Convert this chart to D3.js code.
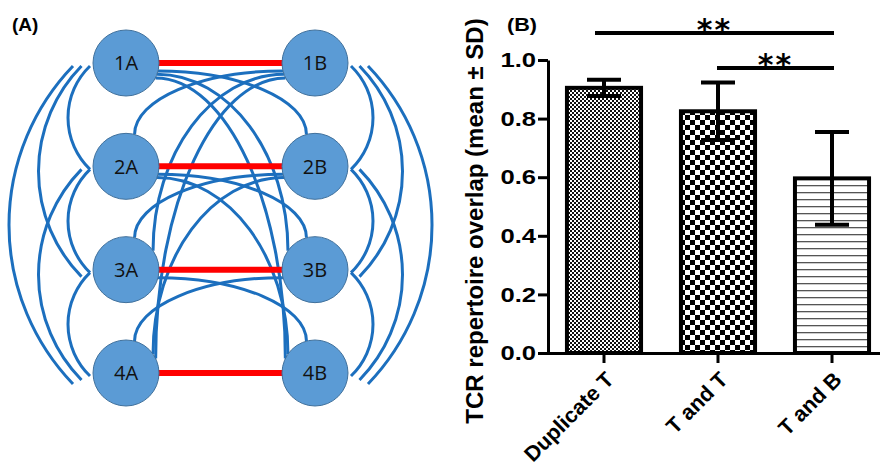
<!DOCTYPE html>
<html>
<head>
<meta charset="utf-8">
<script src="https://cdn.jsdelivr.net/npm/d3@7"></script>
<style>
  body { margin: 0; background: #fff; }
  svg { display: block; }
</style>
</head>
<body>
<div id="chart"></div>
<script>
// ---- panel A: network ----
const rows = ["1", "2", "3", "4"];
const cols = ["A", "B"];
const nodes = ["1A", "1B", "2A", "2B", "3A", "3B", "4A", "4B"];
// same-row pairs (red)
const pairLinks = [["1A", "1B"], ["2A", "2B"], ["3A", "3B"], ["4A", "4B"]];
// same-column links drawn on the outer sides
const sideLinks = [
    ["1A", "2A"], ["1A", "3A"], ["1A", "4A"], ["2A", "3A"], ["2A", "4A"], ["3A", "4A"],
    ["1B", "2B"], ["1B", "3B"], ["1B", "4B"], ["2B", "3B"], ["2B", "4B"], ["3B", "4B"]
];
// links crossing between the columns
const crossLinks = [
    ["1A", "2B"], ["1A", "3B"], ["1A", "4B"], ["2A", "3B"], ["2A", "4B"], ["3A", "4B"],
    ["1B", "2A"], ["1B", "3A"], ["1B", "4A"], ["2B", "3A"], ["2B", "4A"], ["3B", "4A"]
];

// ---- panel B: bar chart ----
const groups = ["Duplicate T", "T and T", "T and B"];
const means = [0.905, 0.825, 0.596];
const sds = [0.028, 0.098, 0.158];
const yTicks = [0, 0.2, 0.4, 0.6, 0.8, 1.0];
const sigPairs = [["Duplicate T", "T and B"], ["T and T", "T and B"]];
const sigLevels = [1.092, 0.973];
const sigLabels = ["**", "**"];

const W = 880, H = 467;
const svg = d3.select("#chart").append("svg")
    .attr("width", W)
    .attr("height", H);

svg.append("rect").attr("width", W).attr("height", H).attr("fill", "#fff");

// patterns
const defs = svg.append("defs");
const fine = defs.append("pattern").attr("id", "fine")
    .attr("patternUnits", "userSpaceOnUse").attr("width", 4).attr("height", 4);
fine.append("rect").attr("width", 4).attr("height", 4).attr("fill", "#fff");
fine.append("rect").attr("width", 2).attr("height", 2).attr("fill", "#111");
fine.append("rect").attr("x", 2).attr("y", 2).attr("width", 2).attr("height", 2).attr("fill", "#111");

const coarse = defs.append("pattern").attr("id", "coarse")
    .attr("patternUnits", "userSpaceOnUse").attr("width", 10).attr("height", 10);
coarse.append("rect").attr("width", 10).attr("height", 10).attr("fill", "#fff");
coarse.append("rect").attr("width", 5).attr("height", 5).attr("fill", "#000");
coarse.append("rect").attr("x", 5).attr("y", 5).attr("width", 5).attr("height", 5).attr("fill", "#000");

const stripes = defs.append("pattern").attr("id", "stripes")
    .attr("patternUnits", "userSpaceOnUse").attr("width", 8).attr("height", 7);
stripes.append("rect").attr("width", 8).attr("height", 7).attr("fill", "#fff");
stripes.append("rect").attr("y", 3).attr("width", 8).attr("height", 1.3).attr("fill", "#555");

const fills = ["url(#fine)", "url(#coarse)", "url(#stripes)"];

// ================= Panel A =================
const gA = svg.append("g");
const colX = d3.scalePoint().domain(cols).range([126, 315]);
const rowY = d3.scalePoint().domain(rows).range([63, 373]);
const R = 33;
const pos = id => ({x: colX(id[1]), y: rowY(id[0])});
const span = (a, b) => Math.round(Math.abs(rowY(b[0]) - rowY(a[0])) / rowY.step());

const blue = "#1c6fbe";

function sidePath(d) {
    const p = pos(d[0]), q = pos(d[1]), k = span(d[0], d[1]);
    const dir = d[0][1] === "A" ? -1 : 1;
    const gap = 3 + 8.5 * (k - 1);
    const x = p.x + dir * (R + gap);
    const y0 = p.y + 3, y1 = q.y + 3 + 4 * (k - 1);
    const L = y1 - y0, s = 21 * k + 1;
    const rad = (L * L / 4 + s * s) / (2 * s);
    const sweep = dir < 0 ? 0 : 1;
    return `M${x},${y0}A${rad},${rad} 0 0 ${sweep} ${x},${y1}`;
}

function crossPath(d) {
    const p = pos(d[0]), q = pos(d[1]), k = span(d[0], d[1]);
    const dir = p.x < q.x ? 1 : -1;
    const sa = [14, 20, 27][k - 1] * Math.PI / 180;
    const ea = [15, 55, 64][k - 1] * Math.PI / 180;
    const x0 = p.x + dir * R * Math.cos(sa), y0 = p.y + R * Math.sin(sa);
    const x1 = q.x - dir * R * Math.sin(ea), y1 = q.y - R * Math.cos(ea);
    const path = d3.path();
    path.moveTo(x0, y0);
    path.bezierCurveTo(x0 + 0.55 * (x1 - x0), y0, x1, y1 - 0.55 * (y1 - y0), x1, y1);
    return path.toString();
}

gA.selectAll(".side").data(sideLinks).enter().append("path")
    .attr("class", "side")
    .attr("d", sidePath)
    .attr("fill", "none")
    .attr("stroke", blue)
    .attr("stroke-width", 3);

gA.selectAll(".cross").data(crossLinks).enter().append("path")
    .attr("class", "cross")
    .attr("d", crossPath)
    .attr("fill", "none")
    .attr("stroke", blue)
    .attr("stroke-width", 3);

gA.selectAll(".pair").data(pairLinks).enter().append("line")
    .attr("class", "pair")
    .attr("x1", d => pos(d[0]).x + R - 2)
    .attr("x2", d => pos(d[1]).x - R + 2)
    .attr("y1", d => pos(d[0]).y)
    .attr("y2", d => pos(d[1]).y)
    .attr("stroke", "#ff0000")
    .attr("stroke-width", 6);

const node = gA.selectAll(".node").data(nodes).enter().append("g")
    .attr("class", "node")
    .attr("transform", d => `translate(${pos(d).x},${pos(d).y})`);
node.append("circle")
    .attr("r", R)
    .attr("fill", "#5b9bd5")
    .attr("stroke", "#41719c")
    .attr("stroke-width", 1);
node.append("text")
    .attr("text-anchor", "middle")
    .attr("dy", "0.36em")
    .style("font-family", "'Open Sans', sans-serif")
    .style("font-size", "20px")
    .attr("fill", "#111")
    .text(d => d);

gA.append("text")
    .attr("x", 12).attr("y", 31)
    .style("font-family", "'Liberation Sans', Arial, sans-serif")
    .style("font-weight", "bold")
    .style("font-size", "19px")
    .text("(A)");

// ================= Panel B =================
const gB = svg.append("g");
const y = d3.scaleLinear().domain([0, 1]).range([353, 60]);
const x = d3.scaleBand().domain(groups).range([547, 889])
    .paddingInner(0.35).paddingOuter(0.175);

const font = "'Liberation Sans', Arial, sans-serif";

// bars
gB.selectAll(".bar").data(groups).enter().append("rect")
    .attr("class", "bar")
    .attr("x", d => x(d))
    .attr("width", x.bandwidth())
    .attr("y", (d, i) => y(means[i]))
    .attr("height", (d, i) => y(0) - y(means[i]))
    .attr("fill", (d, i) => fills[i])
    .attr("stroke", "#000")
    .attr("stroke-width", 4);

// error bars
const cx = d => x(d) + x.bandwidth() / 2;
const capW = 34;
const err = gB.selectAll(".err").data(groups).enter().append("g")
    .attr("class", "err")
    .attr("stroke", "#000")
    .attr("stroke-width", 4);
err.append("line")
    .attr("x1", cx).attr("x2", cx)
    .attr("y1", (d, i) => y(means[i] - sds[i]))
    .attr("y2", (d, i) => y(means[i] + sds[i]));
err.append("line")
    .attr("x1", d => cx(d) - capW / 2).attr("x2", d => cx(d) + capW / 2)
    .attr("y1", (d, i) => y(means[i] + sds[i]))
    .attr("y2", (d, i) => y(means[i] + sds[i]));
err.append("line")
    .attr("x1", d => cx(d) - capW / 2).attr("x2", d => cx(d) + capW / 2)
    .attr("y1", (d, i) => y(means[i] - sds[i]))
    .attr("y2", (d, i) => y(means[i] - sds[i]));

// axes
const yAxis = gB.append("g")
    .attr("transform", "translate(548,0)")
    .call(d3.axisLeft(y).tickValues(yTicks).tickSize(10).tickSizeOuter(0)
        .tickPadding(3).tickFormat(d3.format(".1f")));
yAxis.select(".domain").attr("stroke-width", 3);
yAxis.selectAll(".tick line").attr("stroke-width", 3);
yAxis.selectAll(".tick text")
    .style("font-family", font)
    .style("font-weight", "bold")
    .style("font-size", "21px")
    .attr("fill", "#000")
    .attr("x", -12 / 1.22)
    .attr("transform", "scale(1.22,1)");

const xAxis = gB.append("g")
    .attr("transform", `translate(0,${y(0)})`)
    .call(d3.axisBottom(x).tickSize(10).tickSizeOuter(0));
xAxis.select(".domain").attr("stroke-width", 3).attr("d", "M538,0.5H889");
xAxis.selectAll(".tick line").attr("stroke-width", 3);
xAxis.selectAll(".tick text").remove();

gB.selectAll(".xlab").data(groups).enter().append("text")
    .attr("class", "xlab")
    .attr("transform", d => `translate(${cx(d) + 11},${y(0) + 28}) rotate(-45)`)
    .attr("text-anchor", "end")
    .style("font-family", font)
    .style("font-weight", "bold")
    .style("font-size", "21.5px")
    .text(d => d);

// y title
gB.append("text")
    .attr("transform", "translate(483,221) rotate(-90)")
    .attr("text-anchor", "middle")
    .style("font-family", font)
    .style("font-weight", "bold")
    .style("font-size", "24px")
    .text("TCR repertoire overlap (mean ± SD)");

// significance
sigPairs.forEach((pr, i) => {
    const x1 = i === 0 ? cx(pr[0]) - 9 : cx(pr[0]) - 1;
    const x2 = cx(pr[1]) + 2;
    gB.append("line")
        .attr("x1", x1).attr("x2", x2)
        .attr("y1", y(sigLevels[i])).attr("y2", y(sigLevels[i]))
        .attr("stroke", "#000").attr("stroke-width", 4);
    gB.append("text")
        .attr("x", (x1 + x2) / 2)
        .attr("y", y(sigLevels[i]) + 7)
        .attr("text-anchor", "middle")
        .style("font-family", "'DejaVu Sans', sans-serif")
        .style("font-weight", "bold")
        .style("font-size", "30px")
        .style("letter-spacing", "2px")
        .text(sigLabels[i]);
});

gB.append("text")
    .attr("x", 507 / 1.2).attr("y", 31)
    .attr("transform", "scale(1.2,1)")
    .style("font-family", font)
    .style("font-weight", "bold")
    .style("font-size", "18px")
    .text("(B)");
</script>
</body>
</html>
